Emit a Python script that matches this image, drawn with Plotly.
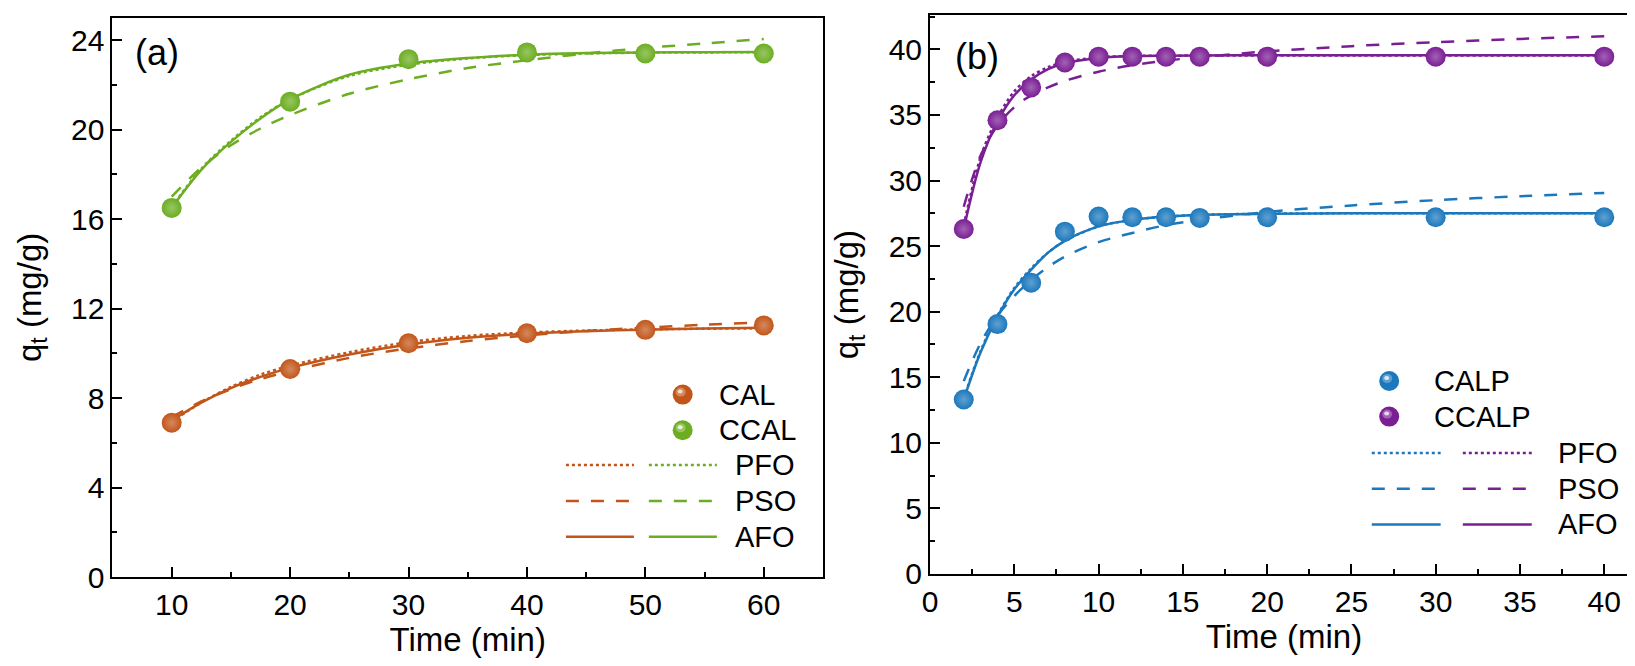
import plotly.graph_objects as go

# ---------------- data ----------------
t_a = [10, 20, 30, 40, 50, 60]
cal = [6.9, 9.3, 10.45, 10.9, 11.05, 11.25]
ccal = [16.5, 21.25, 23.15, 23.45, 23.4, 23.4]

fit_t_a = [10, 12.5, 15, 17.5, 20, 25, 30, 35, 40, 45, 50, 55, 60]
cal_afo = [7.0, 7.8, 8.45, 8.95, 9.35, 9.95, 10.4, 10.7, 10.88, 10.99, 11.06, 11.11, 11.14]
cal_pfo = [6.95, 7.8, 8.5, 9.05, 9.45, 10.05, 10.5, 10.78, 10.93, 11.02, 11.07, 11.1, 11.12]
cal_pso = [7.15, 7.85, 8.4, 8.85, 9.2, 9.8, 10.22, 10.55, 10.8, 11.0, 11.15, 11.28, 11.38]
ccal_afo = [16.5, 18.2, 19.45, 20.5, 21.35, 22.45, 22.95, 23.2, 23.35, 23.42, 23.45, 23.46, 23.47]
ccal_pfo = [16.55, 18.25, 19.5, 20.55, 21.35, 22.4, 22.9, 23.18, 23.33, 23.4, 23.44, 23.45, 23.46]
ccal_pso = [17.0, 18.3, 19.3, 20.05, 20.65, 21.6, 22.25, 22.75, 23.1, 23.4, 23.65, 23.85, 24.05]

t_b = [2, 4, 6, 8, 10, 12, 14, 16, 20, 30, 40]
calp = [13.3, 19.05, 22.2, 26.1, 27.25, 27.2, 27.2, 27.15, 27.2, 27.2, 27.2]
ccalp = [26.3, 34.6, 37.1, 39.0, 39.45, 39.45, 39.45, 39.45, 39.45, 39.45, 39.45]

fit_t_b = [2, 3, 4, 5, 6, 7, 8, 10, 12, 14, 16, 20, 25, 30, 35, 40]
calp_afo = [13.3, 16.9, 19.6, 21.7, 23.2, 24.5, 25.4, 26.5, 27.0, 27.25, 27.38, 27.47, 27.5, 27.5, 27.5, 27.5]
calp_pfo = [13.4, 17.0, 19.7, 21.8, 23.3, 24.5, 25.4, 26.5, 27.0, 27.25, 27.38, 27.47, 27.5, 27.5, 27.5, 27.5]
calp_pso = [14.7, 17.6, 19.7, 21.2, 22.4, 23.4, 24.2, 25.3, 26.0, 26.6, 27.0, 27.6, 28.1, 28.5, 28.8, 29.05]
ccalp_afo = [26.3, 31.4, 34.5, 36.5, 37.7, 38.5, 38.95, 39.35, 39.48, 39.52, 39.54, 39.55, 39.55, 39.55, 39.55, 39.55]
ccalp_pfo = [26.6, 31.8, 34.8, 36.8, 37.95, 38.65, 39.05, 39.4, 39.5, 39.52, 39.53, 39.53, 39.53, 39.53, 39.53, 39.53]
ccalp_pso = [28.0, 31.9, 34.2, 35.6, 36.5, 37.1, 37.6, 38.3, 38.8, 39.15, 39.4, 39.85, 40.25, 40.55, 40.8, 41.0]

series_a_names = ["CAL", "CCAL"]
series_b_names = ["CALP", "CCALP"]
model_names = ["PFO", "PSO", "AFO"]

# ---------------- style ----------------
BROWN = "#C2561A"
GREEN = "#6CAD22"
BLUE = "#1C78BC"
PURPLE = "#7A1E94"
MID = {BROWN: "#D4885F", GREEN: "#98C664", BLUE: "#60A0D0", PURPLE: "#A262B4"}
SPOT = {BROWN: "#F6D9C6", GREEN: "#E4F5D0", BLUE: "#D6ECFB", PURPLE: "#EBD3F2"}
FONT = "Arial, Liberation Sans, sans-serif"
DASHES = {"PFO": "dot", "PSO": "13px,12px", "AFO": "solid"}
LW = 2.5
MS = 20

fig = go.Figure()


def add_curve(x, y, color, model, xa, ya):
    fig.add_trace(go.Scatter(x=x, y=y, mode="lines", xaxis=xa, yaxis=ya,
                             line=dict(color=color, width=LW, dash=DASHES[model],
                                       shape="spline", smoothing=0.9),
                             showlegend=False, hoverinfo="skip"))


def add_points(x, y, color, name, xa, ya):
    fig.add_trace(go.Scatter(x=x, y=y, mode="markers", name=name, xaxis=xa, yaxis=ya,
                             marker=dict(size=MS, color=color, line=dict(width=0),
                                         gradient=dict(type="radial", color=MID[color])),
                             showlegend=False))


# panel (a)
add_curve(fit_t_a, cal_pfo, BROWN, "PFO", "x", "y")
add_curve(fit_t_a, cal_pso, BROWN, "PSO", "x", "y")
add_curve(fit_t_a, cal_afo, BROWN, "AFO", "x", "y")
add_curve(fit_t_a, ccal_pfo, GREEN, "PFO", "x", "y")
add_curve(fit_t_a, ccal_pso, GREEN, "PSO", "x", "y")
add_curve(fit_t_a, ccal_afo, GREEN, "AFO", "x", "y")
add_points(t_a, cal, BROWN, series_a_names[0], "x", "y")
add_points(t_a, ccal, GREEN, series_a_names[1], "x", "y")

# panel (b)
add_curve(fit_t_b, calp_pfo, BLUE, "PFO", "x2", "y2")
add_curve(fit_t_b, calp_pso, BLUE, "PSO", "x2", "y2")
add_curve(fit_t_b, calp_afo, BLUE, "AFO", "x2", "y2")
add_curve(fit_t_b, ccalp_pfo, PURPLE, "PFO", "x2", "y2")
add_curve(fit_t_b, ccalp_pso, PURPLE, "PSO", "x2", "y2")
add_curve(fit_t_b, ccalp_afo, PURPLE, "AFO", "x2", "y2")
add_points(t_b, calp, BLUE, series_b_names[0], "x2", "y2")
add_points(t_b, ccalp, PURPLE, series_b_names[1], "x2", "y2")

tickfont = dict(family=FONT, size=30, color="black")
titlefont = dict(family=FONT, size=33, color="black")


def axis(rng, dtick, minor_dtick, domain, title, anchor, standoff):
    return dict(range=rng, dtick=dtick, tick0=0, domain=domain, anchor=anchor,
                showgrid=False, zeroline=False, showline=True, mirror=True,
                linecolor="black", linewidth=2, ticks="inside", ticklen=10,
                tickwidth=2, tickcolor="black", tickfont=tickfont,
                minor=dict(dtick=minor_dtick, ticks="inside", ticklen=5,
                           tickwidth=2, tickcolor="black", showgrid=False),
                title=dict(text=title, font=titlefont, standoff=standoff))


fig.update_layout(
    width=1635, height=666,
    margin=dict(l=0, r=0, t=0, b=0),
    paper_bgcolor="white", plot_bgcolor="white",
    showlegend=False,
    xaxis=axis([5, 65], 10, 5, [0.0593, 0.4960], "Time (min)", "y", 0),
    yaxis=axis([0, 25], 4, 2, [0.1231, 0.985], "q<sub>t</sub> (mg/g)", "x", 20),
    xaxis2=axis([0, 42], 5, 2.5, [0.5618, 0.9969], "Time (min)", "y2", 0),
    yaxis2=axis([0, 42.6], 5, 2.5, [0.1281, 0.9887], "q<sub>t</sub> (mg/g)", "x2", 20),
)

# ---------------- custom legends ----------------
shapes = []
annotations = []
LEG_FONT = dict(family=FONT, size=29, color="black")

legend_specs = [
    dict(xr="x domain", yr="y domain", mx=0.8025, tx=0.8515, mtx=0.874,
         segs=[(0.6382, 0.7339), (0.7549, 0.8506)],
         my=[0.3263, 0.2625], ly=[0.2003, 0.1359, 0.0720],
         colors=[BROWN, GREEN], names=series_a_names),
    dict(xr="x2 domain", yr="y2 domain", mx=0.6486, tx=0.709, mtx=0.8847,
         segs=[(0.6240, 0.7213), (0.7526, 0.8500)],
         my=[0.3454, 0.2816], ly=[0.2163, 0.1525, 0.0885],
         colors=[BLUE, PURPLE], names=series_b_names),
]

for spec in legend_specs:
    for yy, col, nm in zip(spec["my"], spec["colors"], spec["names"]):
        r = MS / 2
        shapes.append(dict(type="circle", xref=spec["xr"], yref=spec["yr"],
                           xsizemode="pixel", ysizemode="pixel",
                           xanchor=spec["mx"], yanchor=yy,
                           x0=-r, x1=r, y0=-r, y1=r,
                           fillcolor=col, line=dict(width=0)))
        shapes.append(dict(type="circle", xref=spec["xr"], yref=spec["yr"],
                           xsizemode="pixel", ysizemode="pixel",
                           xanchor=spec["mx"], yanchor=yy,
                           x0=-7, x1=3, y0=-2, y1=7,
                           fillcolor=MID[col], line=dict(width=0)))
        shapes.append(dict(type="circle", xref=spec["xr"], yref=spec["yr"],
                           xsizemode="pixel", ysizemode="pixel",
                           xanchor=spec["mx"], yanchor=yy,
                           x0=-5, x1=0, y0=1, y1=5,
                           fillcolor=SPOT[col], line=dict(width=0)))
        annotations.append(dict(xref=spec["xr"], yref=spec["yr"], x=spec["tx"], y=yy,
                                text=nm, showarrow=False, xanchor="left", yanchor="middle",
                                font=LEG_FONT))
    for yy, model in zip(spec["ly"], model_names):
        for (xa0, xa1), col in zip(spec["segs"], spec["colors"]):
            shapes.append(dict(type="line", xref=spec["xr"], yref=spec["yr"],
                               x0=xa0, x1=xa1, y0=yy, y1=yy,
                               line=dict(color=col, width=LW, dash=DASHES[model])))
        annotations.append(dict(xref=spec["xr"], yref=spec["yr"], x=spec["mtx"], y=yy,
                                text=model, showarrow=False, xanchor="left", yanchor="middle",
                                font=LEG_FONT))

annotations.append(dict(xref="paper", yref="paper", x=0.072, y=0.931, text="(a)",
                        showarrow=False, xanchor="left", yanchor="middle",
                        font=dict(family=FONT, size=36, color="black")))
annotations.append(dict(xref="paper", yref="paper", x=0.576, y=0.925, text="(b)",
                        showarrow=False, xanchor="left", yanchor="middle",
                        font=dict(family=FONT, size=36, color="black")))

fig.update_layout(shapes=shapes, annotations=annotations)

fig.write_html("out.html")
